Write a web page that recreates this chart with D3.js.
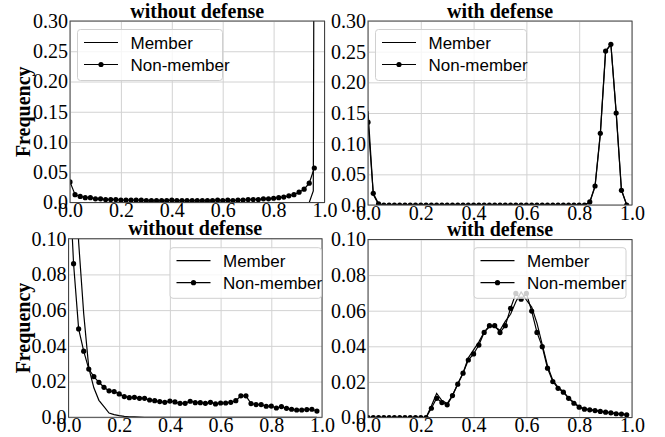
<!DOCTYPE html>
<html>
<head>
<meta charset="utf-8">
<script src="https://cdn.jsdelivr.net/npm/d3@7"></script>
<style>
  body { margin: 0; background: #fff; }
  svg { display: block; }
</style>
</head>
<body>
<div id="chart"></div>
<script>
// bin positions on the x axis (confidence score)
const bins = [0.00, 0.02, 0.04, 0.06, 0.08, 0.10, 0.12, 0.14, 0.16, 0.18,
              0.20, 0.22, 0.24, 0.26, 0.28, 0.30, 0.32, 0.34, 0.36, 0.38,
              0.40, 0.42, 0.44, 0.46, 0.48, 0.50, 0.52, 0.54, 0.56, 0.58,
              0.60, 0.62, 0.64, 0.66, 0.68, 0.70, 0.72, 0.74, 0.76, 0.78,
              0.80, 0.82, 0.84, 0.86, 0.88, 0.90, 0.92, 0.94, 0.96, 0.98];

const xTicks = [0, 0.2, 0.4, 0.6, 0.8, 1.0];
const xTickLabels = ["0.0", "0.2", "0.4", "0.6", "0.8", "1.0"];
const yTicksTop = [0, 0.05, 0.10, 0.15, 0.20, 0.25, 0.30];
const yTickLabelsTop = ["0.0", "0.05", "0.10", "0.15", "0.20", "0.25", "0.30"];
const yTicksBottom = [0, 0.02, 0.04, 0.06, 0.08, 0.10];
const yTickLabelsBottom = ["0.0", "0.02", "0.04", "0.06", "0.08", "0.10"];

// top-left: without defense
const tlNonMember = [0.034, 0.013, 0.010, 0.008, 0.008, 0.006, 0.006, 0.005, 0.005, 0.005,
                     0.004, 0.004, 0.004, 0.004, 0.004, 0.003, 0.003, 0.003, 0.003, 0.003,
                     0.004, 0.003, 0.003, 0.003, 0.003, 0.003, 0.003, 0.003, 0.003, 0.004,
                     0.003, 0.004, 0.003, 0.004, 0.004, 0.005, 0.005, 0.005, 0.006, 0.006,
                     0.007, 0.008, 0.009, 0.011, 0.013, 0.017, 0.022, 0.032, 0.057];
const tlMemberX = bins.slice(0, 48).concat([0.956, 0.962]);
const tlMember = new Array(48).fill(0).concat([0.019, 0.95]);

// top-right: with defense
const trNonMember = [0.135, 0.019, 0.002].concat(new Array(39).fill(0),
                     [0.005, 0.031, 0.117, 0.251, 0.262, 0.150, 0.024, 0.0]);
const trMember = [0.153, 0.017, 0.001].concat(new Array(39).fill(0),
                  [0.004, 0.030, 0.115, 0.250, 0.262, 0.152, 0.025, 0.0]);

// bottom-left: without defense
const blNonMember = [0.145, 0.086, 0.0495, 0.037, 0.027, 0.0228, 0.0196, 0.0168, 0.0148, 0.0144,
                     0.0131, 0.0116, 0.0110, 0.0112, 0.0106, 0.0106, 0.0097, 0.0093, 0.0088, 0.0084,
                     0.0091, 0.0086, 0.0078, 0.0078, 0.0090, 0.0082, 0.0082, 0.0078, 0.0084, 0.0075,
                     0.0080, 0.0080, 0.0084, 0.0093, 0.0120, 0.0120, 0.0077, 0.0071, 0.0071, 0.0062,
                     0.0063, 0.0052, 0.0060, 0.0050, 0.0045, 0.0041, 0.0041, 0.0043, 0.0045, 0.0035];
const blMember = [0.35, 0.17, 0.098, 0.058, 0.0277, 0.0165, 0.0095, 0.006, 0.0024, 0.0015,
                  0.0009, 0.0005, 0.0003, 0.0002, 0.0001].concat(new Array(35).fill(0));

// bottom-right: with defense
const brNonMember = new Array(12).fill(0).concat([
                     0.0052, 0.0108, 0.0084, 0.0071, 0.0123, 0.0187, 0.0249, 0.0323,
                     0.0357, 0.0407, 0.0478, 0.0516, 0.0516, 0.0477, 0.0516, 0.0613, 0.0697, 0.0665,
                     0.0697, 0.0598, 0.0478, 0.0398, 0.0277, 0.0202, 0.0164, 0.0142, 0.0108, 0.0080,
                     0.0058, 0.0047, 0.0043, 0.0039, 0.0034, 0.0030, 0.0026, 0.0021, 0.0019, 0.0015]);
const brMember = new Array(12).fill(0).concat([
                  0.0065, 0.0135, 0.0095, 0.0078, 0.0125, 0.0190, 0.0250, 0.0335,
                  0.0380, 0.0425, 0.0480, 0.0510, 0.0510, 0.0490, 0.0540, 0.0580, 0.0650, 0.0705,
                  0.0660, 0.0620, 0.0530, 0.0410, 0.0290, 0.0210, 0.0170, 0.0145, 0.0110, 0.0085,
                  0.0060, 0.0048, 0.0044, 0.0040, 0.0035, 0.0031, 0.0027, 0.0022, 0.0020, 0.0016]);

const SERIF = "'Liberation Serif', 'Times New Roman', serif";
const SANS = "'Liberation Sans', Arial, sans-serif";

const panels = [
  {id: "tl", title: "without defense", ylabel: true,
   box: {left: 70, right: 324.5, top: 21, bottom: 202.5},
   legend: {x: 77.5, y: 29.5, w: 145, h: 51},
   yMax: 0.30, yTicks: yTicksTop, yLabels: yTickLabelsTop,
   member: tlMemberX.map((x, i) => [x, tlMember[i]]),
   nonMember: tlNonMember.map((v, i) => [bins[i], v])},
  {id: "tr", title: "with defense", ylabel: false,
   box: {left: 368, right: 632, top: 21, bottom: 205},
   legend: {x: 375.5, y: 29.5, w: 151, h: 51},
   yMax: 0.30, yTicks: yTicksTop, yLabels: yTickLabelsTop,
   member: trMember.map((v, i) => [bins[i], v]),
   nonMember: trNonMember.map((v, i) => [bins[i], v])},
  {id: "bl", title: "without defense", ylabel: true,
   box: {left: 68.5, right: 322, top: 238.7, bottom: 417.3},
   legend: {x: 170, y: 247.7, w: 151.5, h: 50.6},
   yMax: 0.10, yTicks: yTicksBottom, yLabels: yTickLabelsBottom,
   member: blMember.map((v, i) => [bins[i], v]),
   nonMember: blNonMember.map((v, i) => [bins[i], v])},
  {id: "br", title: "with defense", ylabel: false,
   box: {left: 368, right: 632, top: 239.5, bottom: 417.5},
   legend: {x: 474, y: 247.7, w: 152, h: 50.6},
   yMax: 0.10, yTicks: yTicksBottom, yLabels: yTickLabelsBottom,
   member: brMember.map((v, i) => [bins[i], v]),
   nonMember: brNonMember.map((v, i) => [bins[i], v])}
];

const svg = d3.select("#chart").append("svg")
  .attr("width", 665)
  .attr("height", 437);

panels.forEach(p => {
  const b = p.box;
  const w = b.right - b.left, h = b.bottom - b.top;
  const x = d3.scaleLinear().domain([0, 1]).range([0, w]);
  const y = d3.scaleLinear().domain([0, p.yMax]).range([h, 0]);

  const g = svg.append("g").attr("transform", `translate(${b.left},${b.top})`);

  g.append("clipPath").attr("id", "clip-" + p.id)
    .append("rect").attr("width", w).attr("height", h);

  // grid
  const gx = g.append("g").attr("transform", `translate(0,${h})`)
    .call(d3.axisBottom(x).tickValues(xTicks).tickSize(-h).tickFormat(""));
  const gy = g.append("g")
    .call(d3.axisLeft(y).tickValues(p.yTicks).tickSize(-w).tickFormat(""));
  [gx, gy].forEach(a => {
    a.select(".domain").remove();
    a.selectAll("line").attr("stroke", "#d2d2d2").attr("stroke-width", 1);
  });

  // tick labels
  const ax = g.append("g").attr("transform", `translate(0,${h})`)
    .call(d3.axisBottom(x).tickValues(xTicks).tickSize(0).tickPadding(0.5)
      .tickFormat((d, i) => xTickLabels[i]));
  const ay = g.append("g")
    .call(d3.axisLeft(y).tickValues(p.yTicks).tickSize(0).tickPadding(2)
      .tickFormat((d, i) => p.yLabels[i]));
  [ax, ay].forEach(a => {
    a.select(".domain").remove();
    a.attr("font-family", SERIF).attr("font-size", 20);
    a.selectAll("text")
      .style("font-family", SERIF)
      .style("font-size", "20px")
      .attr("fill", "#000");
  });

  // series
  const line = d3.line().x(d => x(d[0])).y(d => y(d[1]));
  const plot = g.append("g").attr("clip-path", `url(#clip-${p.id})`);

  plot.append("path")
    .datum(p.member)
    .attr("fill", "none")
    .attr("stroke", "#000")
    .attr("stroke-width", 1.2)
    .attr("d", line);

  plot.append("path")
    .datum(p.nonMember)
    .attr("fill", "none")
    .attr("stroke", "#000")
    .attr("stroke-width", 1.2)
    .attr("d", line);

  plot.selectAll(".dot")
    .data(p.nonMember)
    .enter()
    .append("circle")
    .attr("class", "dot")
    .attr("cx", d => x(d[0]))
    .attr("cy", d => y(d[1]))
    .attr("r", 2.6)
    .attr("fill", "#000");

  // frame
  g.append("rect")
    .attr("width", w).attr("height", h)
    .attr("fill", "none")
    .attr("stroke", "#444")
    .attr("stroke-width", 1);

  // title
  g.append("text")
    .attr("x", w / 2)
    .attr("y", -3.5)
    .attr("text-anchor", "middle")
    .style("font-family", SERIF)
    .style("font-size", "20px")
    .style("font-weight", "bold")
    .text(p.title);

  if (p.ylabel) {
    svg.append("text")
      .attr("transform", `translate(30,${b.top + h / 2}) rotate(-90)`)
      .attr("text-anchor", "middle")
      .style("font-family", SERIF)
      .style("font-size", "20px")
      .style("font-weight", "bold")
      .text("Frequency");
  }

  // legend
  const L = p.legend;
  const lg = svg.append("g")
    .attr("transform", `translate(${L.x},${L.y})`);
  lg.append("rect")
    .attr("width", L.w).attr("height", L.h)
    .attr("rx", 3)
    .attr("fill", "#fff").attr("fill-opacity", 0.8)
    .attr("stroke", "#d0d0d0").attr("stroke-width", 1);

  const rows = [{name: "Member", dot: false}, {name: "Non-member", dot: true}];
  rows.forEach((r, i) => {
    const ry = 13 + i * 22;
    lg.append("line")
      .attr("x1", 6.5).attr("x2", 40.5)
      .attr("y1", ry).attr("y2", ry)
      .attr("stroke", "#000").attr("stroke-width", 1.2);
    if (r.dot) {
      lg.append("circle").attr("cx", 23.5).attr("cy", ry).attr("r", 2.6).attr("fill", "#000");
    }
    lg.append("text")
      .attr("x", 53)
      .attr("y", ry + 6)
      .style("font-family", SANS)
      .style("font-size", "17px")
      .text(r.name);
  });
});
</script>
</body>
</html>
